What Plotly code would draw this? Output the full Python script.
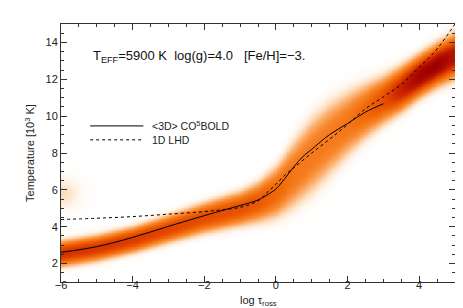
import numpy as np
import plotly.graph_objects as go

# ---- data ----
# <3D> CO5BOLD mean temperature structure
x3d = [-6, -5, -4, -3, -2, -1.5, -1, -0.5, -0.25, 0, 0.25, 0.5, 0.75, 1, 1.5, 2, 2.5, 3]
t3d = [2.61, 2.92, 3.42, 4.02, 4.6, 4.88, 5.15, 5.45, 5.72, 6.05, 6.62, 7.25, 7.8, 8.2, 9.0, 9.6, 10.22, 10.67]

# 1D LHD temperature structure
x1d = [-6, -5, -4, -3, -2, -1.5, -1, -0.5, -0.25, 0, 0.25, 0.5, 1, 1.5, 2, 2.5, 3, 3.5, 4, 4.5, 5]
t1d = [4.39, 4.46, 4.55, 4.68, 4.82, 4.92, 5.05, 5.4, 5.85, 6.3, 6.8, 7.2, 8.0, 8.75, 9.55, 10.4, 11.05, 11.72, 12.65, 13.65, 15.0]

# 3D temperature distribution (probability density) described along the band
band_x = [-6, -5, -4, -3, -2, -1, -0.5, 0, 0.5, 1, 1.5, 2, 2.5, 3, 3.5, 4, 4.5, 5]
band_c = [2.55, 2.85, 3.3, 3.9, 4.5, 5.0, 5.35, 5.9, 6.9, 7.9, 8.8, 9.6, 10.3, 10.9, 11.5, 12.2, 12.8, 13.3]
band_s = [0.47, 0.47, 0.47, 0.5, 0.55, 0.62, 0.72, 0.92, 1.2, 1.35, 1.3, 1.15, 0.98, 0.85, 0.8, 0.75, 0.75, 0.8]
band_a = [0.74, 0.72, 0.7, 0.66, 0.63, 0.6, 0.57, 0.5, 0.42, 0.4, 0.4, 0.42, 0.5, 0.62, 0.82, 0.98, 1.0, 0.88]
# faint patch at the upper left
blob_x, blob_t, blob_sx, blob_st, blob_a = -6.0, 5.8, 0.35, 0.55, 0.1

x_ticks = [-6, -4, -2, 0, 2, 4]
x_labels = ["\u22126", "\u22124", "\u22122", "0", "2", "4"]
y_ticks = [2, 4, 6, 8, 10, 12, 14]

# ---- density grid ----
gx = np.arange(-6.0, 5.0001, 0.04)
gt = np.arange(1.0, 15.0001, 0.04)
c = np.interp(gx, band_x, band_c)
s = np.interp(gx, band_x, band_s)
a = np.interp(gx, band_x, band_a)
X, T = np.meshgrid(gx, gt)
Z = a[None, :] * np.exp(-0.5 * np.abs((T - c[None, :]) / s[None, :]) ** 2.6)
Z += blob_a * np.exp(-0.5 * (((X - blob_x) / blob_sx) ** 2 + ((T - blob_t) / blob_st) ** 2))
Z = np.round(Z, 3)

cscale = [
    [0.0, "#ffffff"],
    [0.04, "#fff4ea"],
    [0.1, "#fddcbc"],
    [0.2, "#fbb070"],
    [0.32, "#f88a30"],
    [0.48, "#f26a08"],
    [0.66, "#e24500"],
    [0.84, "#c01a00"],
    [1.0, "#9c0000"],
]

fig = go.Figure()
fig.add_trace(go.Heatmap(x=gx, y=gt, z=Z, colorscale=cscale, zmin=0, zmax=1,
                         showscale=False, zsmooth="best", hoverinfo="skip"))
fig.add_trace(go.Scatter(x=x3d, y=t3d, mode="lines", line=dict(color="black", width=1, shape="spline"),
                         name="<3D> CO<sup>5</sup>BOLD", showlegend=False))
fig.add_trace(go.Scatter(x=x1d, y=t1d, mode="lines",
                         line=dict(color="black", width=1, dash="3px,3px", shape="spline"),
                         name="1D LHD", showlegend=False))

FONT = "Liberation Sans, Arial, sans-serif"
axis_common = dict(
    showgrid=False, zeroline=False, showline=True, linecolor="#333333", linewidth=1,
    mirror="allticks", ticks="inside", ticklen=6, tickcolor="#333333", tickwidth=1,
    tickfont=dict(family=FONT, size=11, color="#222222"),
)
fig.update_xaxes(range=[-6, 5], tickvals=x_ticks, ticktext=x_labels, ticklabelstandoff=-7,
                 minor=dict(dtick=0.5, ticks="inside", ticklen=3, tickcolor="#333333"),
                 **axis_common)
fig.update_yaxes(range=[1, 15], tickvals=y_ticks,
                 minor=dict(dtick=0.5, ticks="inside", ticklen=3, tickcolor="#333333"),
                 title=dict(text="Temperature [10<sup>3</sup> K]", standoff=8,
                            font=dict(family=FONT, size=11, color="#222222")),
                 **axis_common)

# x-axis title
fig.add_annotation(xref="paper", yref="paper", x=0.5, y=-0.075, xanchor="center", yanchor="middle",
                   text="log \u03c4<sub>ross</sub>", showarrow=False,
                   font=dict(family=FONT, size=11, color="#222222"))

# legend drawn as key samples + labels (paper coordinates)
fig.add_shape(type="line", xref="paper", yref="paper", x0=0.074, x1=0.209, y0=0.605, y1=0.605,
              line=dict(color="black", width=1))
fig.add_shape(type="line", xref="paper", yref="paper", x0=0.074, x1=0.209, y0=0.551, y1=0.551,
              line=dict(color="black", width=1, dash="3px,3px"))
fig.add_annotation(xref="paper", yref="paper", x=0.226, y=0.605, xanchor="left", yanchor="middle",
                   text="<3D> CO<sup>5</sup>BOLD", showarrow=False,
                   font=dict(family=FONT, size=10.5, color="#222222"))
fig.add_annotation(xref="paper", yref="paper", x=0.226, y=0.551, xanchor="left", yanchor="middle",
                   text="1D LHD", showarrow=False,
                   font=dict(family=FONT, size=10.5, color="#222222"))
fig.add_annotation(xref="paper", yref="paper", x=0.075, y=0.875, xanchor="left", yanchor="middle",
                   text="T<sub>EFF</sub>=5900 K  log(g)=4.0   [Fe/H]=\u22123.", showarrow=False,
                   font=dict(family=FONT, size=13, color="#111111"))

fig.update_layout(width=463, height=308, margin=dict(l=53, r=16, t=16, b=34),
                  paper_bgcolor="white", plot_bgcolor="white", showlegend=False)

fig.write_html("out.html")
